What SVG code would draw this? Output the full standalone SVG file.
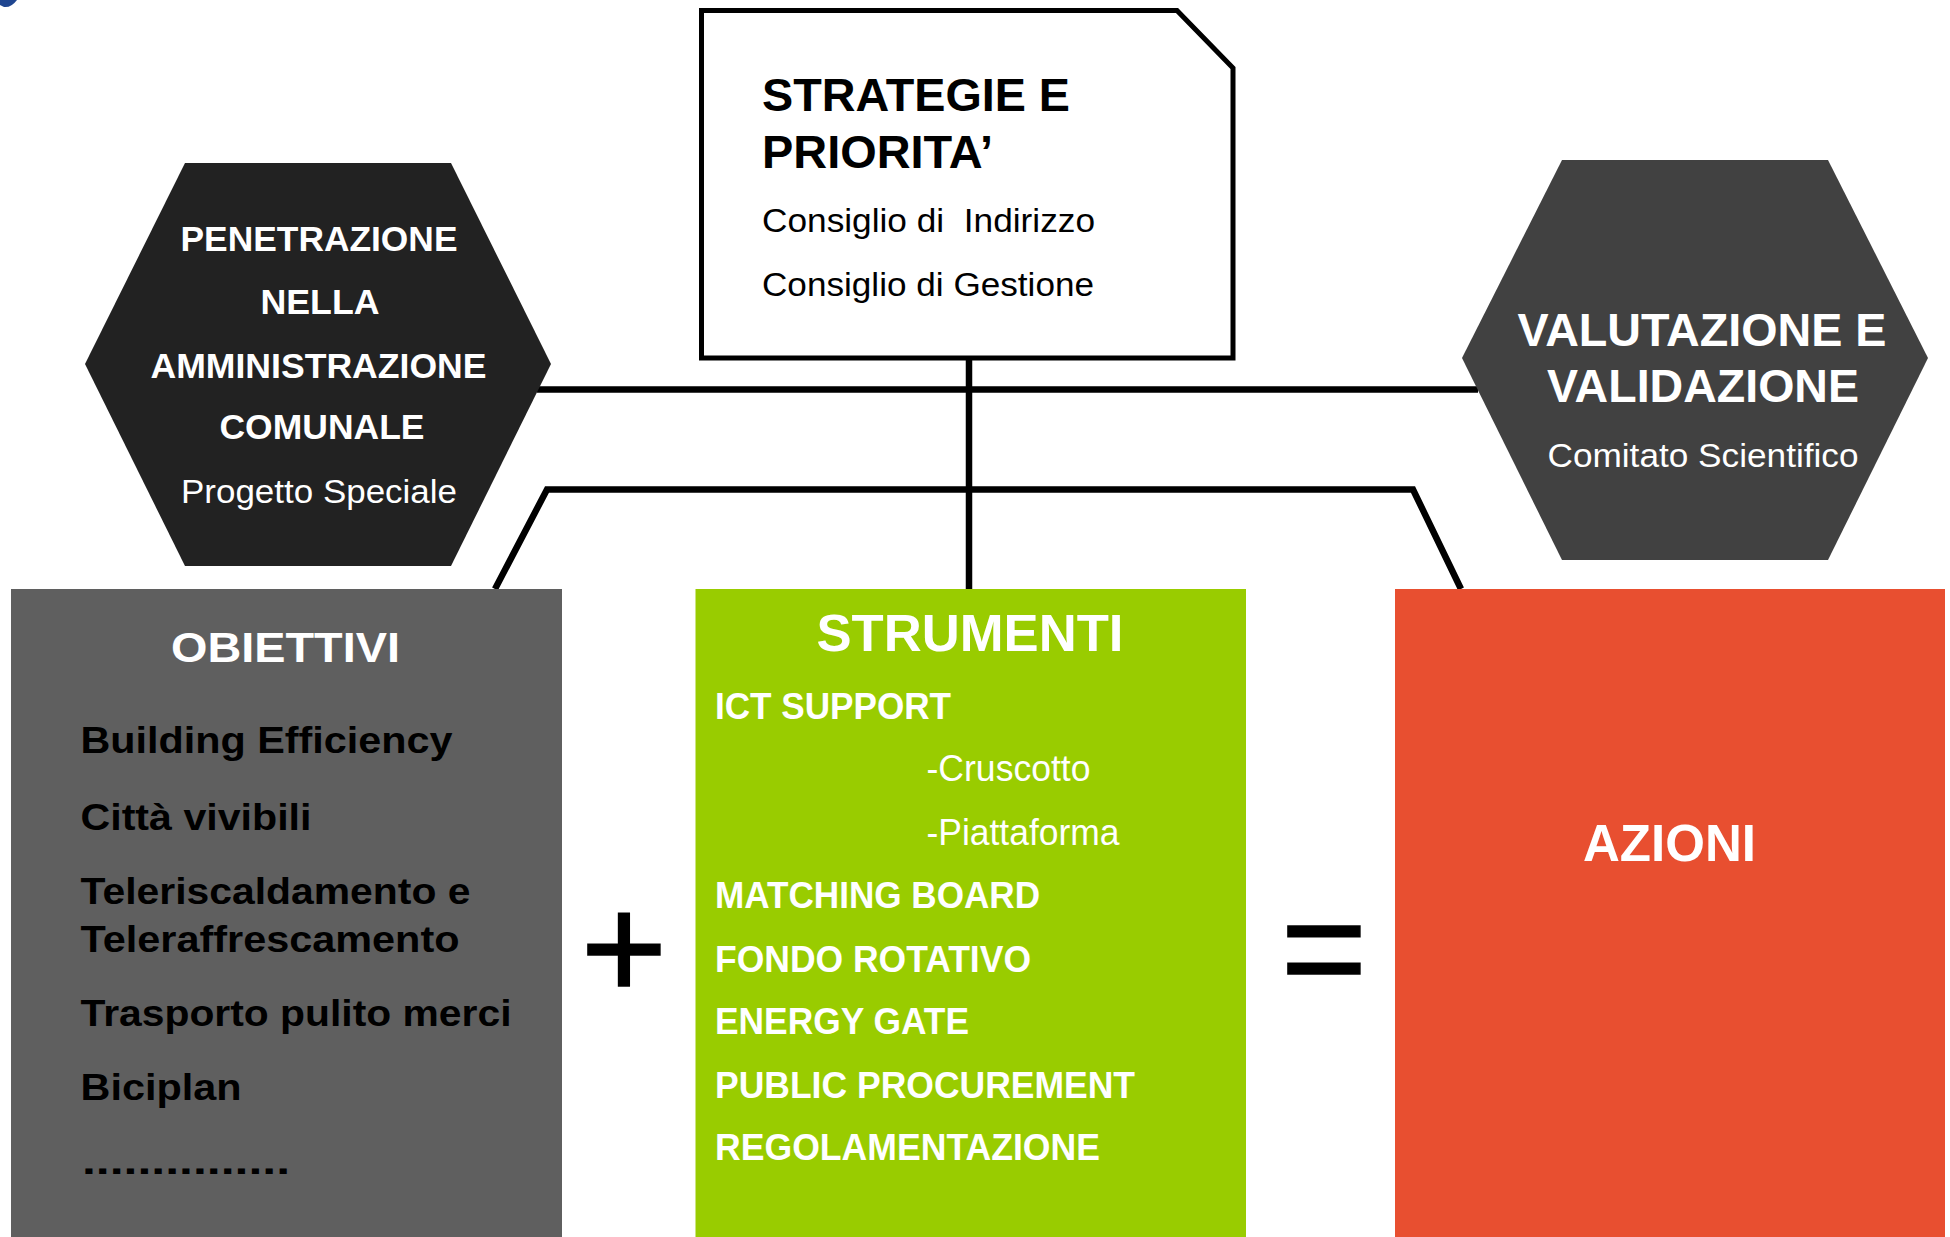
<svg xmlns="http://www.w3.org/2000/svg" width="1950" height="1237" viewBox="0 0 1950 1237">
<style>
text { font-family: "Liberation Sans", Arial, sans-serif; }
.b { font-weight: bold; }
.w { fill: #ffffff; }
.k { fill: #000000; }
.op { font-weight: normal; fill: #000000; stroke: #000000; stroke-width: 1.6; stroke-linejoin: miter; }
.conn { fill: none; stroke: #000000; stroke-width: 6.5; stroke-linejoin: miter; stroke-linecap: butt; }
</style>
<rect x="0" y="0" width="1950" height="1237" fill="#ffffff"/>
<path d="M0,0 L17,0 Q11,8 4,7 L0,5 Z" fill="#1f4690"/>

<g id="connectors">
  <line class="conn" x1="537" y1="389.5" x2="1478" y2="389.5"/>
  <line class="conn" x1="969" y1="360" x2="969" y2="589"/>
  <polyline class="conn" points="495,589 547,489.5 1413,489.5 1461,589"/>
</g>

<g id="strategie">
  <polygon points="701.5,10.5 1177,10.5 1233,68 1233,358 701.5,358" fill="#ffffff" stroke="#000000" stroke-width="5" stroke-linejoin="miter"/>
  <text class="b k" x="762" y="111" font-size="46" textLength="308" lengthAdjust="spacingAndGlyphs">STRATEGIE E</text>
  <text class="b k" x="762" y="168" font-size="46" textLength="231" lengthAdjust="spacingAndGlyphs">PRIORITA’</text>
  <text class="k" x="762" y="231.5" font-size="33" textLength="333" lengthAdjust="spacingAndGlyphs">Consiglio di&#160; Indirizzo</text>
  <text class="k" x="762" y="296" font-size="33" textLength="332" lengthAdjust="spacingAndGlyphs">Consiglio di Gestione</text>
</g>

<g id="penetrazione">
  <polygon points="185,163 451,163 551,364 451,566 185,566 85,364" fill="#222222"/>
  <text class="b w" x="319" y="251" font-size="35" text-anchor="middle" textLength="277" lengthAdjust="spacingAndGlyphs">PENETRAZIONE</text>
  <text class="b w" x="320" y="314" font-size="35" text-anchor="middle" textLength="119" lengthAdjust="spacingAndGlyphs">NELLA</text>
  <text class="b w" x="318.5" y="378" font-size="35" text-anchor="middle" textLength="336" lengthAdjust="spacingAndGlyphs">AMMINISTRAZIONE</text>
  <text class="b w" x="322" y="439" font-size="35" text-anchor="middle" textLength="205" lengthAdjust="spacingAndGlyphs">COMUNALE</text>
  <text class="w" x="319" y="503" font-size="34" text-anchor="middle" textLength="276" lengthAdjust="spacingAndGlyphs">Progetto Speciale</text>
</g>

<g id="valutazione">
  <polygon points="1562,160 1828,160 1928,358 1828,560 1562,560 1462,358" fill="#414141"/>
  <text class="b w" x="1702" y="346" font-size="46" text-anchor="middle" textLength="369" lengthAdjust="spacingAndGlyphs">VALUTAZIONE E</text>
  <text class="b w" x="1703" y="402" font-size="46" text-anchor="middle" textLength="312" lengthAdjust="spacingAndGlyphs">VALIDAZIONE</text>
  <text class="w" x="1703" y="467" font-size="34" text-anchor="middle" textLength="311" lengthAdjust="spacingAndGlyphs">Comitato Scientifico</text>
</g>

<g id="obiettivi">
  <rect x="11" y="589" width="551" height="648" fill="#5f5f5f"/>
  <text class="b w" x="285.5" y="661.5" font-size="43" text-anchor="middle" textLength="229" lengthAdjust="spacingAndGlyphs">OBIETTIVI</text>
  <text class="b k" x="80.5" y="753" font-size="37.5" textLength="372" lengthAdjust="spacingAndGlyphs">Building Efficiency</text>
  <text class="b k" x="80.5" y="830" font-size="37.5" textLength="231" lengthAdjust="spacingAndGlyphs">Città vivibili</text>
  <text class="b k" x="80.5" y="904" font-size="37.5" textLength="390" lengthAdjust="spacingAndGlyphs">Teleriscaldamento e</text>
  <text class="b k" x="80.5" y="952" font-size="37.5" textLength="379" lengthAdjust="spacingAndGlyphs">Teleraffrescamento</text>
  <text class="b k" x="80.5" y="1026" font-size="37.5" textLength="431" lengthAdjust="spacingAndGlyphs">Trasporto pulito merci</text>
  <text class="b k" x="80.5" y="1100" font-size="37.5" textLength="161" lengthAdjust="spacingAndGlyphs">Biciplan</text>
  <text class="b k" x="82" y="1174" font-size="37.5" textLength="208" lengthAdjust="spacingAndGlyphs">...............</text>
</g>

<g id="plus">
  <text class="op" x="624" y="999" font-size="148" text-anchor="middle">+</text>
</g>

<g id="strumenti">
  <rect x="695.5" y="589" width="550.5" height="648" fill="#99cc00"/>
  <text class="b w" x="970" y="650.7" font-size="52" text-anchor="middle" textLength="307" lengthAdjust="spacingAndGlyphs">STRUMENTI</text>
  <text class="b w" x="715" y="718.5" font-size="37" textLength="236" lengthAdjust="spacingAndGlyphs">ICT SUPPORT</text>
  <text class="w" x="926.5" y="781" font-size="37" textLength="164" lengthAdjust="spacingAndGlyphs">-Cruscotto</text>
  <text class="w" x="926.5" y="845" font-size="37" textLength="193" lengthAdjust="spacingAndGlyphs">-Piattaforma</text>
  <text class="b w" x="715" y="907.6" font-size="37" textLength="325" lengthAdjust="spacingAndGlyphs">MATCHING BOARD</text>
  <text class="b w" x="715" y="971.5" font-size="37" textLength="316" lengthAdjust="spacingAndGlyphs">FONDO ROTATIVO</text>
  <text class="b w" x="715" y="1033.6" font-size="37" textLength="254" lengthAdjust="spacingAndGlyphs">ENERGY GATE</text>
  <text class="b w" x="715" y="1097.6" font-size="37" textLength="420" lengthAdjust="spacingAndGlyphs">PUBLIC PROCUREMENT</text>
  <text class="b w" x="715" y="1160" font-size="37" textLength="385" lengthAdjust="spacingAndGlyphs">REGOLAMENTAZIONE</text>
</g>

<g id="equals">
  <text class="op" x="1324" y="999" font-size="148" text-anchor="middle">=</text>
</g>

<g id="azioni">
  <rect x="1395" y="589" width="550" height="648" fill="#e84f30"/>
  <text class="b w" x="1669.5" y="861.4" font-size="52" text-anchor="middle" textLength="173" lengthAdjust="spacingAndGlyphs">AZIONI</text>
</g>
</svg>
